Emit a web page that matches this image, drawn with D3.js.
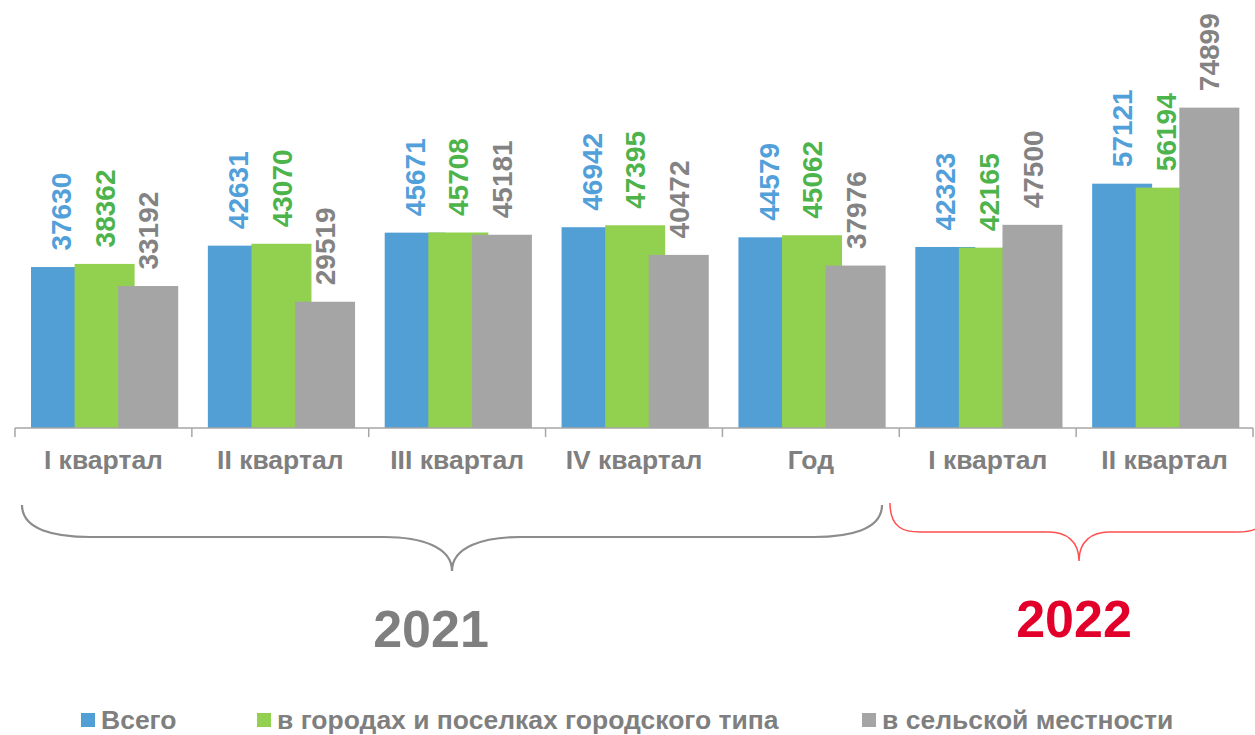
<!DOCTYPE html>
<html><head><meta charset="utf-8">
<script src="https://cdn.jsdelivr.net/npm/d3@7"></script>
<style>body{margin:0;background:#fff}svg{display:block}text{font-family:"Liberation Sans",Arial,sans-serif}</style>
</head><body><svg id="c" width="1255" height="735"></svg>
<script>
const categories = ["I квартал","II квартал","III квартал","IV квартал","Год","I квартал ","II квартал "];
const categoryLabels = ["I квартал","II квартал","III квартал","IV квартал","Год","I квартал","II квартал"];
const seriesNames = ["Всего","в городах и поселках городского типа","в сельской местности"];
const total = [37630,42631,45671,46942,44579,42323,57121];
const urban = [38362,43070,45708,47395,45062,42165,56194];
const rural = [33192,29519,45181,40472,37976,47500,74899];
const years = ["2021","2022"];

const barColors = ["#529fd6","#92d050","#a5a5a5"];
const labelColors = ["#52a0da","#4db34b","#838383"];
const seriesData = [total, urban, rural];

const svg = d3.select("#c");
const x = d3.scaleBand().domain(categories).range([15,1253]).padding(0);
const xs = d3.scaleBand().domain(seriesNames).range([16,146.8]).padding(0);
const barW = 60;
const y = d3.scaleLinear().domain([0,75000]).range([428,107.2]);

// bars
seriesNames.forEach((s,si)=>{
  const g = svg.append("g");
  g.selectAll("rect").data(categories).join("rect")
    .attr("x",(c)=>x(c)+xs(s))
    .attr("y",(c,i)=>y(seriesData[si][i]))
    .attr("width",barW)
    .attr("height",(c,i)=>y(0)-y(seriesData[si][i]))
    .attr("fill",barColors[si]);
});
// labels
seriesNames.forEach((s,si)=>{
  svg.append("g").selectAll("text").data(categories).join("text")
    .attr("transform",(c,i)=>`translate(${x(c)+xs(s)+barW/2},${y(seriesData[si][i])-16.5}) rotate(-90)`)
    .attr("dy","0.36em")
    .attr("text-anchor","start")
    .attr("font-size",28).attr("font-weight","bold")
    .attr("fill",labelColors[si])
    .text((c,i)=>seriesData[si][i]);
});

// axis
const ax = svg.append("g").attr("transform","translate(0,428)")
  .call(d3.axisBottom(x).tickSize(0).tickFormat((d,i)=>categoryLabels[i]));
ax.select(".domain").attr("stroke","#a6a6a6").attr("stroke-width",1.5).attr("d","M15,0H1253");
ax.selectAll(".tick text").attr("font-size",26.5).attr("font-weight","bold")
  .attr("fill","#7f7f7f").attr("font-family","Liberation Sans, Arial, sans-serif").attr("y",41).attr("dy",0);
const bounds = categories.map(c=>x(c)).concat([x(categories[categories.length-1])+x.bandwidth()]);
svg.append("g").selectAll("line").data(bounds).join("line")
  .attr("x1",d=>d).attr("x2",d=>d).attr("y1",428).attr("y2",437)
  .attr("stroke","#a6a6a6").attr("stroke-width",1.5);

// braces
function brace(x0,x1,yTop,yMid,tip,r){
  const cx=(x0+x1)/2;
  return `M${x0},${yTop} C${x0},${yMid-r*0.1} ${x0+r*0.5},${yMid} ${x0+r},${yMid} L${cx-r},${yMid} C${cx-r*0.45},${yMid} ${cx},${yMid+(tip-yMid)*0.3} ${cx},${tip} C${cx},${yMid+(tip-yMid)*0.3} ${cx+r*0.45},${yMid} ${cx+r},${yMid} L${x1-r},${yMid} C${x1-r*0.5},${yMid} ${x1},${yMid-r*0.1} ${x1},${yTop}`;
}
svg.append("path").attr("d",brace(22,882,505,537,571,68)).attr("fill","none").attr("stroke","#8c8c8c").attr("stroke-width",2.2);
svg.append("path").attr("d",brace(890,1268,503,532,561,30)).attr("fill","none").attr("stroke","#ff4f4f").attr("stroke-width",1.5);

svg.append("text").attr("x",431).attr("y",647).attr("text-anchor","middle")
  .attr("font-size",52).attr("font-weight","bold").attr("fill","#7f7f7f").text(years[0]);
svg.append("text").attr("x",1074).attr("y",637).attr("text-anchor","middle")
  .attr("font-size",52).attr("font-weight","bold").attr("fill","#e2002b").text(years[1]);

// legend
const legX = [81,257,862];
seriesNames.forEach((s,i)=>{
  svg.append("rect").attr("x",legX[i]).attr("y",713).attr("width",14).attr("height",14).attr("fill",barColors[i]);
  svg.append("text").attr("x",legX[i]+20).attr("y",729).attr("font-size",26.5).attr("font-weight","bold")
    .attr("fill","#7f7f7f").text(s);
});
</script></body></html>
